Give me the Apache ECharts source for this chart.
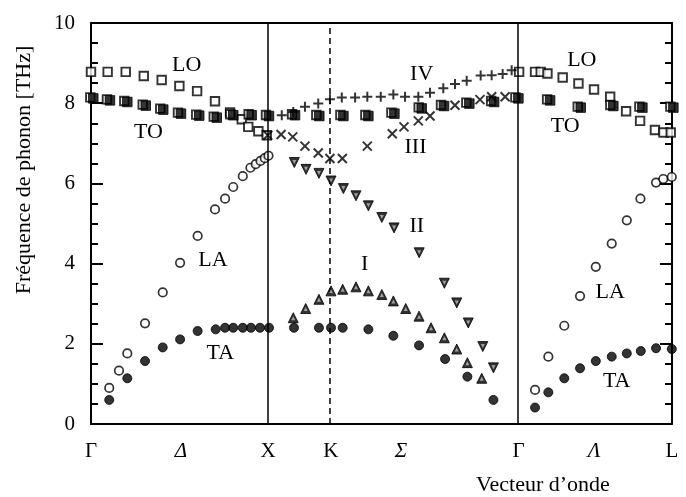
<!DOCTYPE html>
<html>
<head>
<meta charset="utf-8">
<script src="https://cdn.jsdelivr.net/npm/echarts@6/dist/echarts.min.js"></script>
<style>html,body{margin:0;padding:0;background:#fff}#c{width:686px;height:497px}</style>
</head>
<body>
<div id="c"></div>
<script>
// High-symmetry points (q in units of 2π/a)
const qGamma = 0, qX = 1, qK = 1.3536, qGamma2 = 2.4142, qL = 3.2802;
const xTickValues = [0, 0.508, 1, 1.3536, 1.75, 2.4142, 2.84, 3.2802];
const xTickLabels = ['Γ', 'Δ', 'X', 'K', 'Σ', 'Γ', 'Λ', 'L'];
const xTickItalic = [false, true, false, false, true, false, true, false];
const yMin = 0, yMax = 10, yInterval = 2;

// Branches [q, frequency THz]
const LO = [[0.0,8.78],[0.094,8.78],[0.196,8.78],[0.298,8.68],[0.399,8.58],[0.499,8.43],[0.599,8.30],[0.70,8.05],[0.785,7.77],[0.851,7.60],[0.888,7.41],[0.945,7.30],[0.992,7.20],
  [2.417,8.78],[2.507,8.78],[2.539,8.78],[2.577,8.74],[2.663,8.64],[2.752,8.49],[2.840,8.34],[2.931,8.16],[3.021,7.80],[3.100,7.56],[3.184,7.33],[3.232,7.27],[3.273,7.27]];
const TO = [[0.013,8.12],[0.107,8.07],[0.205,8.03],[0.309,7.94],[0.408,7.84],[0.508,7.74],[0.611,7.69],[0.710,7.64],[0.803,7.70],[0.907,7.70],[1.005,7.68],
  [1.152,7.70],[1.289,7.68],[1.425,7.68],[1.566,7.68],[1.713,7.74],[1.867,7.87],[1.993,7.93],[2.136,7.99],[2.276,8.03],[2.413,8.12],
  [2.592,8.07],[2.765,7.89],[2.949,7.93],[3.113,7.89],[3.288,7.89]];
const LA = [[0.103,0.90],[0.158,1.33],[0.205,1.76],[0.305,2.51],[0.405,3.28],[0.503,4.02],[0.602,4.69],[0.700,5.35],[0.757,5.62],[0.803,5.91],[0.857,6.18],[0.900,6.39],[0.930,6.48],[0.957,6.56],[0.981,6.63],[1.002,6.69],
  [2.507,0.85],[2.582,1.68],[2.672,2.45],[2.761,3.19],[2.850,3.92],[2.940,4.50],[3.025,5.08],[3.102,5.62],[3.190,6.02],[3.231,6.11],[3.279,6.16]];
const TA = [[0.103,0.60],[0.205,1.14],[0.305,1.57],[0.405,1.91],[0.503,2.11],[0.602,2.32],[0.704,2.36],[0.757,2.40],[0.803,2.40],[0.857,2.40],[0.903,2.40],[0.954,2.40],[1.005,2.40],
  [1.146,2.40],[1.287,2.40],[1.355,2.40],[1.421,2.40],[1.566,2.36],[1.707,2.20],[1.852,1.96],[1.999,1.62],[2.125,1.18],[2.272,0.60],
  [2.507,0.41],[2.582,0.79],[2.672,1.14],[2.761,1.39],[2.850,1.57],[2.940,1.68],[3.025,1.76],[3.104,1.82],[3.190,1.89],[3.279,1.87]];
const branchI = [[1.142,2.65],[1.212,2.88],[1.287,3.11],[1.355,3.32],[1.421,3.36],[1.496,3.42],[1.566,3.32],[1.642,3.23],[1.707,3.07],[1.777,2.88],[1.852,2.69],[1.920,2.40],[1.995,2.15],[2.065,1.87],[2.125,1.53],[2.206,1.14]];
const branchII = [[1.148,6.52],[1.214,6.35],[1.287,6.25],[1.355,6.06],[1.425,5.87],[1.496,5.69],[1.566,5.44],[1.642,5.15],[1.711,4.89],[1.853,4.27],[1.995,3.51],[2.065,3.02],[2.130,2.52],[2.212,1.93],[2.272,1.40]];
const branchIII = [[0.998,7.20],[1.073,7.22],[1.139,7.16],[1.208,6.93],[1.283,6.76],[1.349,6.62],[1.419,6.62],[1.560,6.93],[1.701,7.24],[1.767,7.41],[1.848,7.56],[1.914,7.68],[2.055,7.95],[2.196,8.09],[2.262,8.16],[2.338,8.16]];
const branchIV = [[1.077,7.70],[1.142,7.78],[1.208,7.91],[1.283,7.99],[1.349,8.10],[1.416,8.14],[1.491,8.14],[1.560,8.16],[1.636,8.16],[1.707,8.22],[1.773,8.16],[1.848,8.16],[1.914,8.26],[1.989,8.37],[2.055,8.48],[2.121,8.56],[2.200,8.69],[2.262,8.70],[2.324,8.73],[2.375,8.82]];

// Branch annotations [text, q, f]
const annotations = [['LO',0.540,8.95],['TO',0.324,7.28],['LA',0.689,4.09],['TA',0.730,1.77],['IV',1.867,8.72],['III',1.832,6.91],['II',1.839,4.93],['I',1.545,3.99],
  ['LO',2.771,9.08],['TO',2.677,7.43],['LA',2.931,3.28],['TA',2.968,1.07]];

const FONT = "'Liberation Serif','Times New Roman',serif";
const chart = echarts.init(document.getElementById('c'), null, {renderer:'canvas'});
const black = '#000';
function sc(name, data, symbol, size, style, extra) {
  return Object.assign({type:'scatter', name, data, symbol, symbolSize:size, clip:false, itemStyle:style, silent:true, z:3}, extra||{});
}
const hollow = {color:'#fff', borderColor:black, borderWidth:1.9};
const filled = {color:black, borderColor:black, borderWidth:1};
const stroke = {color:'transparent', borderColor:black, borderWidth:2};
const triOuter = {color:black, borderColor:black, borderWidth:1};
const triInner = {color:'#bdbdbd', borderColor:'#bdbdbd', borderWidth:0};

const option = {
  animation:false,
  backgroundColor:'#fff',
  grid:{left:91, right:14, top:23, bottom:73},
  xAxis:[{
    type:'value', min:qGamma, max:qL, position:'bottom',
    axisLine:{show:true, onZero:false, lineStyle:{color:black, width:2}},
    axisTick:{show:false}, splitLine:{show:false},
    axisLabel:{
      customValues:xTickValues, margin:17, color:black, fontFamily:FONT, fontSize:21,
      formatter:function(v){
        for (let i=0;i<xTickValues.length;i++) if (Math.abs(v-xTickValues[i])<1e-6) return xTickItalic[i] ? '{i|'+xTickLabels[i]+'}' : xTickLabels[i];
        return '';
      },
      rich:{i:{fontStyle:'italic', fontFamily:FONT, fontSize:21, color:black}}
    }
  },{
    type:'value', min:qGamma, max:qL, position:'top',
    axisLine:{show:true, onZero:false, lineStyle:{color:black, width:2}},
    axisTick:{show:false}, axisLabel:{show:false}, splitLine:{show:false}
  }],
  yAxis:[{
    type:'value', min:yMin, max:yMax, interval:yInterval, position:'left',
    axisLine:{show:true, onZero:false, lineStyle:{color:black, width:2}},
    axisTick:{show:true, inside:true, length:12, lineStyle:{color:black, width:2}},
    minorTick:{show:true, splitNumber:4, length:7, lineStyle:{color:black, width:2}},
    axisLabel:{margin:16, color:black, fontFamily:FONT, fontSize:21},
    splitLine:{show:false}, minorSplitLine:{show:false}
  },{
    type:'value', min:yMin, max:yMax, interval:yInterval, position:'right',
    axisLine:{show:true, onZero:false, lineStyle:{color:black, width:2}},
    axisTick:{show:true, inside:true, length:12, lineStyle:{color:black, width:2}},
    minorTick:{show:true, splitNumber:4, length:7, lineStyle:{color:black, width:2}},
    axisLabel:{show:false}, splitLine:{show:false}, minorSplitLine:{show:false}
  }],
  series:[
    {type:'line', data:[], silent:true,
     markLine:{silent:true, symbol:'none', label:{show:false}, animation:false,
       lineStyle:{color:black, width:1.5, type:'solid'},
       data:[{xAxis:qX},{xAxis:qK, lineStyle:{type:[6,4], color:black, width:1.5}},{xAxis:qGamma2}]}},
    sc('LO', LO, 'rect', 8.5, hollow),
    sc('TO-open', TO, 'rect', 8.5, hollow, {symbolOffset:[-3,-1]}),
    sc('TO', TO, 'rect', 9.5, filled, {z:4}),
    sc('LA', LA, 'circle', 8.5, {color:'#fff', borderColor:black, borderWidth:1.7}),
    sc('TA', TA, 'circle', 9, filled),
    sc('I', branchI, 'triangle', 10, triOuter),
    sc('I-inner', branchI, 'triangle', 4, triInner, {z:5, symbolOffset:[0,0.5]}),
    sc('II', branchII, 'triangle', 10, triOuter, {symbolRotate:180}),
    sc('II-inner', branchII, 'triangle', 4, triInner, {z:5, symbolRotate:180, symbolOffset:[0,-0.5]}),
    sc('III', branchIII, 'path://M0,0L10,10M10,0L0,10', 9, stroke),
    sc('IV', branchIV, 'path://M5,0L5,10M0,5L10,5', 10, stroke)
  ],
  graphic:[]
};
chart.setOption(option);

const g = annotations.map(function(a){
  const p = chart.convertToPixel({xAxisIndex:0, yAxisIndex:0}, [a[1], a[2]]);
  return {type:'text', x:p[0], y:p[1], z:10, silent:true,
    style:{text:a[0], fill:black, font:'22px '+FONT, textAlign:'center', textVerticalAlign:'middle'}};
});
g.push({type:'text', x:543, y:485, silent:true, style:{text:'Vecteur d’onde', fill:black, font:'22px '+FONT, textAlign:'center', textVerticalAlign:'middle'}});
g.push({type:'text', x:24, y:170, rotation:Math.PI/2, silent:true, style:{text:'Fréquence de phonon [THz]', fill:black, font:'22px '+FONT, textAlign:'center', textVerticalAlign:'middle'}});
chart.setOption({graphic:g});
</script>
</body>
</html>
